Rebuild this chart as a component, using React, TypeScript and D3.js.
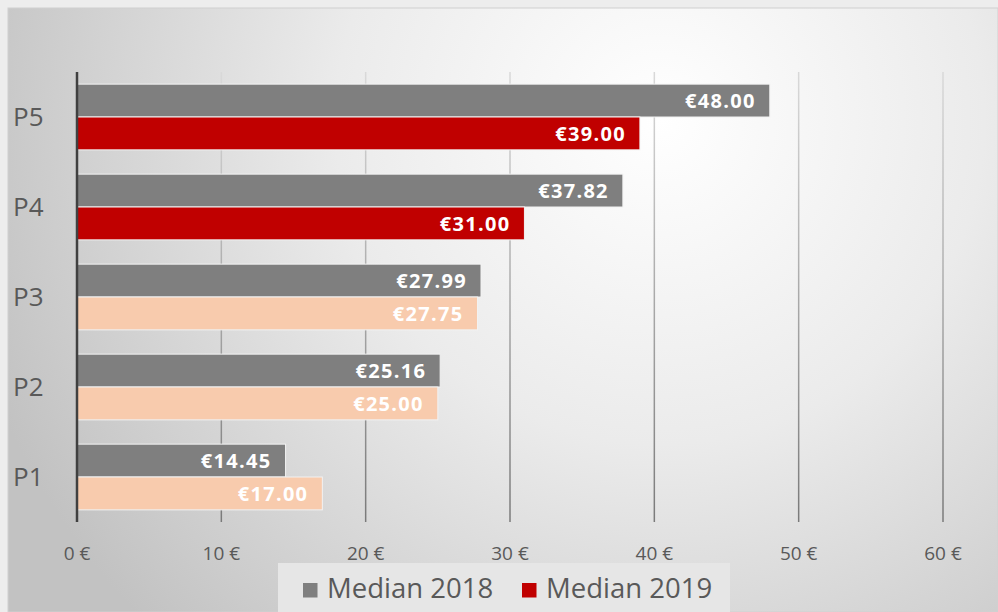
import React from "react";
import * as d3 from "d3";

const categories = ["P5", "P4", "P3", "P2", "P1"];
const median2018 = [48.0, 37.82, 27.99, 25.16, 14.45];
const median2019 = [39.0, 31.0, 27.75, 25.0, 17.0];
const colors2019 = ["#c00000", "#c00000", "#f8cbad", "#f8cbad", "#f8cbad"];
const xTicks = [0, 10, 20, 30, 40, 50, 60];
const seriesNames = ["Median 2018", "Median 2019"];
const seriesColors = ["#7f7f7f", "#c00000"];

const W = 998;
const H = 612;
const FONT = "'Open Sans', 'Noto Sans', sans-serif";

export default function App() {
  const x = d3.scaleLinear().domain([0, 60]).range([77, 943]);
  const y = d3.scaleBand().domain(categories).range([72, 522]).paddingInner(0.27).paddingOuter(0.135);
  const sub = d3.scaleBand().domain(["a", "b"]).range([0, y.bandwidth()]);
  const fmt = (v: number) => "€" + v.toFixed(2);

  return (
    <svg width={W} height={H} style={{ position: "absolute", left: 0, top: 0 }}>
      <defs>
        <radialGradient id="bg" cx="660" cy="120" r="720" gradientUnits="userSpaceOnUse">
          <stop offset="0" stopColor="#ffffff" />
          <stop offset="0.45" stopColor="#ebebeb" />
          <stop offset="1" stopColor="#c2c2c2" />
        </radialGradient>
        <linearGradient id="grid" x1="0" y1="72" x2="0" y2="522" gradientUnits="userSpaceOnUse">
          <stop offset="0" stopColor="#d9d9d9" />
          <stop offset="1" stopColor="#7a7a7a" />
        </linearGradient>
      </defs>
      <rect x={0} y={0} width={W} height={H} fill="#ededed" />
      <rect x={8} y={8} width={W - 8} height={H - 8} fill="url(#bg)" stroke="#d0d0d0" strokeWidth={1} />
      {xTicks.slice(1).map((t) => (
        <line key={t} x1={x(t)} x2={x(t)} y1={72} y2={522} stroke="url(#grid)" strokeWidth={1.5} />
      ))}
      {categories.map((c, i) => {
        const y0 = y(c)!;
        const bh = sub.bandwidth();
        return (
          <g key={c}>
            <rect x={x(0)} y={y0} width={x(median2018[i]) - x(0)} height={bh} fill={seriesColors[0]} stroke="#f2f2f2" strokeWidth={1} />
            <rect x={x(0)} y={y0 + bh} width={x(median2019[i]) - x(0)} height={bh} fill={colors2019[i]} stroke="#f2f2f2" strokeWidth={1} />
            <text x={x(median2018[i]) - 14} y={y0 + bh / 2} dy="0.36em" textAnchor="end" fill="#ffffff" fontWeight="bold" fontSize={20} letterSpacing={1.3} fontFamily={FONT}>
              {fmt(median2018[i])}
            </text>
            <text x={x(median2019[i]) - 14} y={y0 + bh * 1.5} dy="0.36em" textAnchor="end" fill="#ffffff" fontWeight="bold" fontSize={20} letterSpacing={1.3} fontFamily={FONT}>
              {fmt(median2019[i])}
            </text>
            <text x={13} y={y0 + bh} dy="0.36em" fill="#595959" fontSize={26} fontFamily={FONT}>
              {c}
            </text>
          </g>
        );
      })}
      <line x1={x(0)} x2={x(0)} y1={72} y2={522} stroke="#404040" strokeWidth={2.5} />
      {xTicks.map((t) => (
        <text key={t} x={x(t)} y={553} dy="0.36em" textAnchor="middle" fill="#595959" fontSize={19} fontFamily={FONT}>
          {t + " €"}
        </text>
      ))}
      <rect x={278} y={563} width={452} height={49} fill="#e6e6e6" />
      {seriesNames.map((s, i) => {
        const lx = [303, 522][i];
        return (
          <g key={s}>
            <rect x={lx} y={583} width={14.5} height={14.5} fill={seriesColors[i]} />
            <text x={lx + 24} y={588} dy="0.36em" fill="#595959" fontSize={27.5} fontFamily={FONT}>
              {s}
            </text>
          </g>
        );
      })}
    </svg>
  );
}
